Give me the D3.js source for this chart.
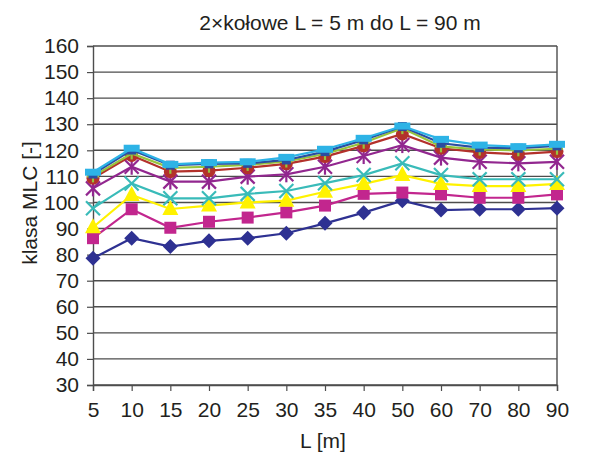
<!DOCTYPE html>
<html>
<head>
<meta charset="utf-8">
<script src="https://cdn.jsdelivr.net/npm/d3@7"></script>
<style>
  body { margin: 0; background: #fff; }
  svg text { font-family: "Liberation Sans", Arial, sans-serif; fill: #231f20; }
</style>
</head>
<body>
<svg id="chart" width="608" height="452"></svg>
<script>
// categories (L in m)
let lengths = [5, 10, 15, 20, 25, 30, 35, 40, 50, 60, 70, 80, 90];
let yTicks = [30, 40, 50, 60, 70, 80, 90, 100, 110, 120, 130, 140, 150, 160];

// MLC class values per series
let navyDiamond  = [78.6, 86.3, 83.1, 85.3, 86.3, 88.2, 92.0, 96.1, 100.7, 97.1, 97.4, 97.4, 97.8];
let magentaSq    = [86.3, 97.4, 90.3, 92.6, 94.2, 96.2, 98.8, 103.3, 103.8, 103.1, 101.8, 101.8, 103.1];
let yellowTri    = [90.5, 102.9, 97.5, 98.8, 100.0, 100.7, 104.1, 107.1, 110.5, 107.1, 106.3, 106.3, 107.1];
let tealX        = [97.8, 107.3, 101.6, 101.6, 103.3, 104.4, 107.4, 110.5, 115.0, 110.5, 108.9, 108.9, 108.9];
let purpleStar   = [105.4, 113.7, 108.0, 108.0, 109.9, 110.8, 113.7, 117.8, 122.0, 117.2, 115.6, 115.0, 115.6];
let redCircle    = [109.3, 118.0, 111.8, 112.2, 113.3, 114.8, 117.6, 121.7, 126.3, 120.8, 119.2, 118.5, 119.5];
let greenPlus    = [110.0, 118.8, 113.3, 113.7, 114.4, 115.7, 118.6, 122.9, 128.5, 121.5, 120.3, 120.0, 120.6];
let blueSq       = [110.9, 120.1, 114.3, 114.8, 115.0, 116.3, 119.5, 124.0, 129.1, 122.7, 121.0, 120.8, 121.7];
let cyanBar      = [111.6, 120.8, 114.6, 115.3, 115.6, 117.3, 120.4, 124.6, 129.3, 124.2, 122.0, 121.4, 122.3];

let series = [
  {values: navyDiamond, color: "#2e3192", marker: "diamond"},
  {values: magentaSq,   color: "#c2268e", marker: "square"},
  {values: yellowTri,   color: "#fff200", marker: "triangle"},
  {values: tealX,       color: "#39bbb9", marker: "x"},
  {values: purpleStar,  color: "#92278f", marker: "star"},
  {values: redCircle,   color: "#b3312b", marker: "circle"},
  {values: greenPlus,   color: "#97c43d", marker: "plus"},
  {values: blueSq,      color: "#2b4da0", marker: "smallsquare"},
  {values: cyanBar,     color: "#2db3e6", marker: "bar"}
];

let svg = d3.select("#chart");

let x = d3.scalePoint()
  .domain(lengths)
  .range([93, 557]);

let y = d3.scaleLinear()
  .domain([30, 160])
  .range([385, 46]);

// grid
svg.append("g")
  .selectAll("line")
  .data(yTicks)
  .enter()
  .append("line")
  .attr("x1", 93).attr("x2", 557)
  .attr("y1", d => y(d)).attr("y2", d => y(d))
  .attr("stroke", "#4d4d4d")
  .attr("stroke-width", 1.4);

// right border
svg.append("line")
  .attr("x1", 557).attr("x2", 557)
  .attr("y1", y(160)).attr("y2", y(30))
  .attr("stroke", "#4d4d4d").attr("stroke-width", 1.4);

// y axis
let yAxis = svg.append("g")
  .attr("transform", "translate(93,0)")
  .call(d3.axisLeft(y).tickValues(yTicks).tickSize(6).tickPadding(8));

// x axis
let xAxis = svg.append("g")
  .attr("transform", `translate(0,${y(30)})`)
  .call(d3.axisBottom(x).tickSize(6).tickPadding(9));

[yAxis, xAxis].forEach(ax => {
  ax.select(".domain").attr("stroke", "#4d4d4d").attr("stroke-width", 1.4);
  ax.selectAll(".tick line").attr("stroke", "#4d4d4d").attr("stroke-width", 1.2);
  ax.selectAll(".tick text")
    .attr("fill", "#231f20")
    .style("font-size", "21px")
    .style("font-family", "\"Liberation Sans\", Arial, sans-serif");
});
xAxis.selectAll(".tick text").attr("dy", "0.8em");

// markers
function markerPath(type) {
  let p = d3.path();
  switch (type) {
    case "diamond":
      p.moveTo(0, -7.5); p.lineTo(7.5, 0); p.lineTo(0, 7.5); p.lineTo(-7.5, 0); p.closePath();
      break;
    case "square":
      p.rect(-6, -6, 12, 12);
      break;
    case "smallsquare":
      p.rect(-4.5, -4.5, 9, 9);
      break;
    case "triangle":
      p.moveTo(0, -9); p.lineTo(8, 6); p.lineTo(-8, 6); p.closePath();
      break;
    case "bar":
      p.rect(-8, -3.5, 16, 7);
      break;
  }
  return p.toString();
}

let lineGen = d3.line()
  .x((d, i) => x(lengths[i]))
  .y(d => y(d));

series.forEach(s => {
  let g = svg.append("g");

  g.append("path")
    .datum(s.values)
    .attr("d", lineGen)
    .attr("fill", "none")
    .attr("stroke", s.color)
    .attr("stroke-width", 2.2);

  let pts = g.selectAll("g.pt")
    .data(s.values)
    .enter()
    .append("g")
    .attr("class", "pt")
    .attr("transform", (d, i) => `translate(${x(lengths[i])},${y(d)})`);

  if (s.marker === "circle") {
    pts.append("circle").attr("r", 6.5).attr("fill", s.color);
  } else if (s.marker === "x" || s.marker === "star" || s.marker === "plus") {
    let r = 7;
    let segs = [];
    if (s.marker !== "plus") segs.push([-r, -r, r, r], [-r, r, r, -r]);
    if (s.marker === "star") segs.push([0, -8, 0, 8]);
    if (s.marker === "plus") segs.push([-6, 0, 6, 0], [0, -6, 0, 6]);
    segs.forEach(sg => {
      pts.append("line")
        .attr("x1", sg[0]).attr("y1", sg[1])
        .attr("x2", sg[2]).attr("y2", sg[3])
        .attr("stroke", s.color)
        .attr("stroke-width", 2.2);
    });
  } else {
    pts.append("path").attr("d", markerPath(s.marker)).attr("fill", s.color);
  }
});

// title and axis labels
svg.append("text")
  .attr("x", 340).attr("y", 30)
  .attr("text-anchor", "middle")
  .style("font-size", "21px")
  .text("2×kołowe L = 5 m do L = 90 m");

svg.append("text")
  .attr("x", 323).attr("y", 448)
  .attr("text-anchor", "middle")
  .style("font-size", "21px")
  .text("L [m]");

svg.append("text")
  .attr("transform", "translate(37,203) rotate(-90)")
  .attr("text-anchor", "middle")
  .style("font-size", "21px")
  .text("klasa MLC [-]");
</script>
</body>
</html>
